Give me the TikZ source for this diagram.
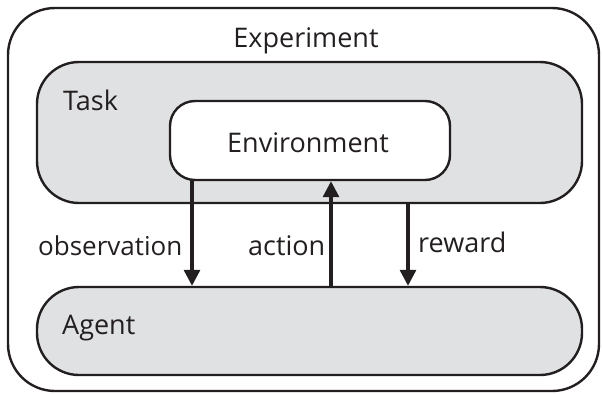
\documentclass[tikz,border=0pt]{standalone}
\usepackage{fontspec}
\setmainfont{Open Sans}
\usetikzlibrary{arrows.meta}
\definecolor{boxgray}{HTML}{E0E1E3}
\definecolor{ink}{HTML}{231F20}
\begin{document}
\begin{tikzpicture}[x=1pt,y=-1pt,
  box/.style={draw=ink, line width=2.4pt, inner sep=0pt},
  lbl/.style={font=\fontsize{27}{32}\selectfont, text=ink, inner sep=0pt, anchor=base west},
  arr/.style={draw=ink, line width=3.2pt, -{Triangle[length=16pt,width=16pt]}}]
\useasboundingbox (0,0) rectangle (602,394);
\node[box, rounded corners=47pt, minimum width=591pt, minimum height=383pt] (exp) at (303.5,199.5) {};
\node[box, fill=boxgray, rounded corners=42pt, minimum width=545pt, minimum height=141pt] (task) at (309.5,132.5) {};
\node[box, fill=white, rounded corners=25pt, minimum width=280pt, minimum height=79pt] (env) at (310,140.5) {};
\node[box, fill=boxgray, rounded corners=42pt, minimum width=545pt, minimum height=88pt] (agent) at (309.5,331) {};
\node[lbl, anchor=base] (explbl) at (306,47) {Experiment};
\node[lbl] (tasklbl) at (63,110) {Task};
\node[lbl, anchor=base] (envlbl) at (308,152) {Environment};
\node[lbl] (agentlbl) at (62,334) {Agent};
\node[lbl, font=\fontsize{26}{32}\selectfont] (obslbl) at (38,255) {observation};
\node[lbl] (actlbl) at (248,255) {action};
\node[lbl] (rewlbl) at (418,252) {reward};
\coordinate (ox) at (192,0);
\coordinate (ax) at (331,0);
\coordinate (rx) at (408,0);
\draw[arr] (env.south -| ox) -- (agent.north -| ox);
\draw[arr] (agent.north -| ax) -- (env.south -| ax);
\draw[arr] (task.south -| rx) -- (agent.north -| rx);
\end{tikzpicture}
\end{document}
